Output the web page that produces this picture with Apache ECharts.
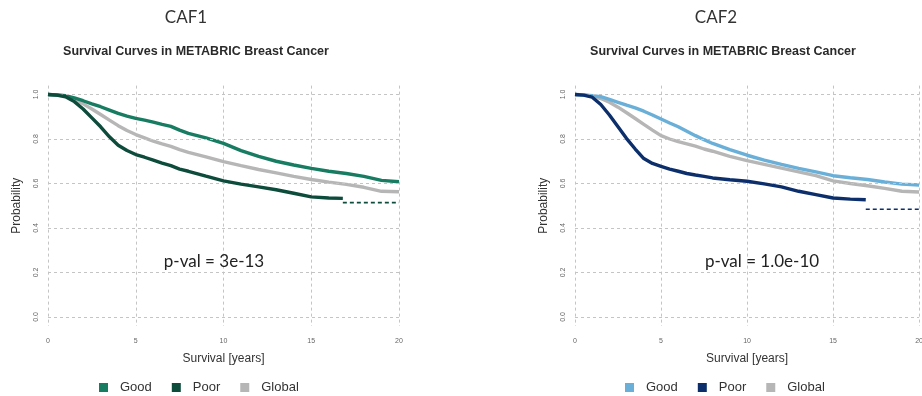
<!DOCTYPE html>
<html>
<head>
<meta charset="utf-8">
<script src="https://cdn.jsdelivr.net/npm/echarts@6/dist/echarts.min.js"></script>
<style>
html,body{margin:0;padding:0;background:#fff;}
#wrap{position:relative;width:922px;height:396px;overflow:hidden;}
#c1{position:absolute;left:0;top:0;width:461px;height:396px;}
#c2{position:absolute;left:461px;top:0;width:465px;height:396px;}
</style>
</head>
<body>
<div id="wrap"><div id="c1"></div><div id="c2"></div></div>
<script>
// ---- data ----
const xTicks = [0, 5, 10, 15, 20];
const yTicks = [0, 0.2, 0.4, 0.6, 0.8, 1.0];
const legendNames = ['Good', 'Poor', 'Global'];

const time = [0,0.5,1,1.5,2,2.5,3,3.5,4,4.5,5,5.5,6,6.5,7,7.5,8,9,10,11,12,13,14,15,16,17,18,19,20];

// CAF1
const caf1Good   = [1,0.998,0.995,0.985,0.972,0.958,0.945,0.93,0.915,0.903,0.893,0.885,0.876,0.866,0.857,0.84,0.825,0.805,0.78,0.748,0.722,0.70,0.683,0.668,0.655,0.645,0.632,0.614,0.608];
const caf1Global = [1,0.998,0.993,0.978,0.958,0.935,0.91,0.885,0.86,0.838,0.82,0.805,0.79,0.778,0.767,0.752,0.74,0.72,0.698,0.68,0.663,0.648,0.632,0.618,0.606,0.596,0.583,0.565,0.563];
const caf1PoorTime = [0,0.5,1,1.5,2,2.5,3,3.5,4,4.5,5,5.5,6,6.5,7,7.5,8,9,10,11,12,13,14,15,16,16.8];
const caf1Poor     = [1,0.997,0.99,0.968,0.935,0.895,0.855,0.81,0.772,0.748,0.73,0.718,0.705,0.692,0.68,0.665,0.655,0.633,0.612,0.597,0.585,0.572,0.556,0.54,0.535,0.533];
const caf1PoorTailTime = [16.8, 20];
const caf1PoorTail     = [0.514, 0.514];

// CAF2
const caf2Good   = [1,0.998,0.995,0.99,0.978,0.965,0.952,0.94,0.925,0.908,0.89,0.872,0.855,0.835,0.815,0.797,0.78,0.752,0.727,0.705,0.686,0.668,0.652,0.635,0.626,0.618,0.607,0.597,0.593];
const caf2Global = [1,0.998,0.992,0.982,0.965,0.943,0.918,0.892,0.866,0.84,0.815,0.8,0.788,0.778,0.768,0.755,0.745,0.722,0.703,0.686,0.669,0.652,0.635,0.612,0.6,0.59,0.578,0.565,0.562];
const caf2PoorTime = [0,0.5,1,1.5,2,2.5,3,3.5,4,4.5,5,5.5,6,6.5,7,7.5,8,9,10,11,12,13,14,15,16,16.9];
const caf2Poor     = [1,0.997,0.988,0.955,0.908,0.855,0.802,0.755,0.712,0.69,0.677,0.665,0.655,0.645,0.638,0.632,0.625,0.617,0.61,0.598,0.585,0.565,0.55,0.535,0.53,0.527];
const caf2PoorTailTime = [16.9, 20];
const caf2PoorTail     = [0.484, 0.484];

const pair = (t, v) => t.map((x, i) => [x, v[i]]);

function build(el, cfg) {
  const chart = echarts.init(el, null, {renderer: 'canvas'});
  const gridLine = {color: '#c4c4c4', type: [3, 3], width: 1};
  const lw = 3.4;
  const option = {
    animation: false,
    backgroundColor: '#fff',
    grid: {left: cfg.gridLeft, right: cfg.gridRight, top: 85.6, bottom: 70.1, containLabel: false},
    xAxis: {
      type: 'value', min: 0, max: 20, interval: 5,
      axisLine: {show: false}, axisTick: {show: false},
      axisLabel: {color: '#666', fontSize: 7, margin: 12, fontFamily: 'Liberation Sans'},
      splitLine: {show: true, lineStyle: gridLine},
      name: 'Survival [years]', nameLocation: 'middle', nameGap: 27,
      nameTextStyle: {color: '#333', fontSize: 12, fontFamily: 'Liberation Sans'}
    },
    yAxis: {
      type: 'value', min: -0.04, max: 1.04,
      axisLine: {show: false}, axisTick: {show: false},
      axisLabel: {customValues: yTicks, rotate: 90, color: '#666', fontSize: 7, margin: 8,
        fontFamily: 'Liberation Sans', formatter: v => v.toFixed(1)},
      splitLine: {show: false},
      name: 'Probability', nameLocation: 'middle', nameGap: 25, nameRotate: 90,
      nameTextStyle: {color: '#333', fontSize: 12, fontFamily: 'Liberation Sans'}
    },
    legend: {
      data: legendNames, left: cfg.legendLeft, top: 376, orient: 'horizontal',
      icon: 'rect', itemWidth: 9, itemHeight: 9, itemGap: 20,
      textStyle: {color: '#333', fontSize: 13, fontFamily: 'Liberation Sans', padding: [0, 0, 0, 7]}
    },
    graphic: [
      {type: 'text', x: cfg.titleX, y: 18, style: {text: cfg.title, fill: '#333', font: '17px Lato', textAlign: 'center', textVerticalAlign: 'middle'}},
      {type: 'text', x: cfg.subX, y: 52, style: {text: 'Survival Curves in METABRIC Breast Cancer', fill: '#2a2a2a', font: 'bold 12.5px "Liberation Sans"', textAlign: 'center', textVerticalAlign: 'middle'}},
      {type: 'text', x: cfg.pX, y: 262, z: 10, style: {text: cfg.pval, fill: '#222', font: '17px Lato', textAlign: 'center', textVerticalAlign: 'middle'}}
    ],
    series: [
      {type: 'line', name: '_grid', data: [], z: 1, silent: true,
        markLine: {silent: true, symbol: ['none', 'none'], label: {show: false},
          lineStyle: gridLine, data: yTicks.map(v => ({yAxis: v}))}},
      {type: 'line', name: 'Global', data: pair(time, cfg.global), showSymbol: false, z: 3,
        lineStyle: {color: '#b6b6b6', width: lw}, itemStyle: {color: '#b6b6b6'}},
      {type: 'line', name: 'Good', data: pair(time, cfg.good), showSymbol: false, z: 4,
        lineStyle: {color: cfg.goodColor, width: lw}, itemStyle: {color: cfg.goodColor}},
      {type: 'line', name: 'Poor', data: pair(cfg.poorTime, cfg.poor), showSymbol: false, z: 5,
        lineStyle: {color: cfg.poorColor, width: lw}, itemStyle: {color: cfg.poorColor}},
      {type: 'line', name: 'Poor', data: pair(cfg.tailTime, cfg.tail), showSymbol: false, z: 5,
        lineStyle: {color: cfg.poorColor, width: 1.6, type: [4, 3]}, itemStyle: {color: cfg.poorColor}}
    ]
  };
  chart.setOption(option);
  return chart;
}

build(document.getElementById('c1'), {
  title: 'CAF1', pval: 'p-val = 3e-13',
  gridLeft: 48, gridRight: 62, titleX: 186, subX: 196, pX: 214, legendLeft: 94,
  good: caf1Good, global: caf1Global, poor: caf1Poor, poorTime: caf1PoorTime,
  tail: caf1PoorTail, tailTime: caf1PoorTailTime,
  goodColor: '#177c62', poorColor: '#0d4b3b'
});
build(document.getElementById('c2'), {
  title: 'CAF2', pval: 'p-val = 1.0e-10',
  gridLeft: 114, gridRight: 0, titleX: 255, subX: 262, pX: 301, legendLeft: 159,
  good: caf2Good, global: caf2Global, poor: caf2Poor, poorTime: caf2PoorTime,
  tail: caf2PoorTail, tailTime: caf2PoorTailTime,
  goodColor: '#6aafd8', poorColor: '#0c2f6c'
});
</script>
</body>
</html>
